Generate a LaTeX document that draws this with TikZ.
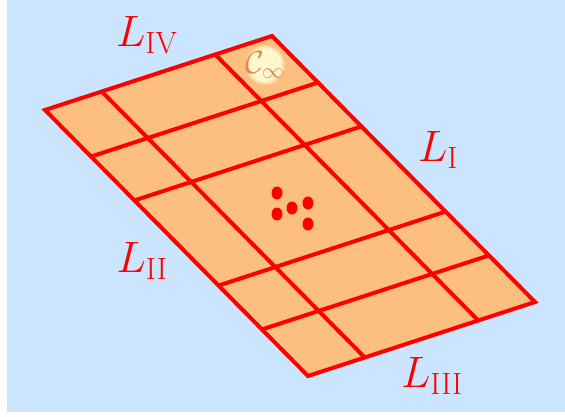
\RequirePackage{fix-cm}
\documentclass[tikz,border=0pt]{standalone}
\usepackage{amsmath,amssymb}
\usepackage{xcolor}
\usepackage{tikz}
\usetikzlibrary{calc,shapes.geometric}
\definecolor{skyback}{RGB}{204,229,255}
\definecolor{sheetfill}{RGB}{253,191,128}
\definecolor{cinfty}{RGB}{240,130,80}
\definecolor{glow}{RGB}{255,248,205}
\tikzset{
  gridln/.style={red, line width=4pt},
  spot/.style={ellipse, fill=red, minimum width=11pt, minimum height=13pt, inner sep=0pt},
  lab/.style={text=red, inner sep=0pt, font=\fontsize{44}{50}\selectfont}
}

\begin{document}
\begin{tikzpicture}[x=1pt,y=-1pt]
    \useasboundingbox (0,0) rectangle (565,417);
    \fill[skyback] (7,0) rectangle (565,412);

    % corners of the sheet
    \coordinate (L) at (45,110);
    \coordinate (T) at (272,36);
    \coordinate (B) at (308,376);
    \coordinate (R) at (535,302);

    \fill[sheetfill] (L)--(T)--(R)--(B)--cycle;

    \foreach \f [count=\i] in {0.25,0.75}{
      \coordinate (u\i) at ($(L)!\f!(T)$);
      \coordinate (d\i) at ($(B)!\f!(R)$);
      \draw[gridln] (u\i)--(d\i);
    }
    \foreach \f [count=\i] in {0.175,0.34,0.66,0.825}{
      \coordinate (w\i) at ($(L)!\f!(B)$);
      \coordinate (e\i) at ($(T)!\f!(R)$);
      \draw[gridln] (w\i)--(e\i);
    }
    \draw[gridln] (L)--(T)--(R)--(B)--cycle;

    % soft disc behind C_infty
    \coordinate (Cc) at (265,65);
    \fill[glow!45!sheetfill] (Cc) circle (19.5);
    \fill[glow!75!sheetfill] (Cc) circle (18);
    \fill[glow] (Cc) circle (16.5);
    \node[text=cinfty, inner sep=0pt, font=\fontsize{32}{36}\selectfont] (Cinf) at (Cc) {$\mathcal{C}_{\infty}$};

    \node[spot] (p1) at (277,193) {};
    \node[spot] (p2) at (277,214) {};
    \node[spot] (p3) at (292,208) {};
    \node[spot] (p4) at (308,203) {};
    \node[spot] (p5) at (308,224) {};

    \node[lab] (LIV) at (147,35) {$L_{\mathrm{IV}}$};
    \node[lab] (LI) at (438,150) {$L_{\mathrm{I}}$};
    \node[lab] (LII) at (142,261) {$L_{\mathrm{II}}$};
    \node[lab] (LIII) at (432,376) {$L_{\mathrm{III}}$};
  \end{tikzpicture}
\end{document}
